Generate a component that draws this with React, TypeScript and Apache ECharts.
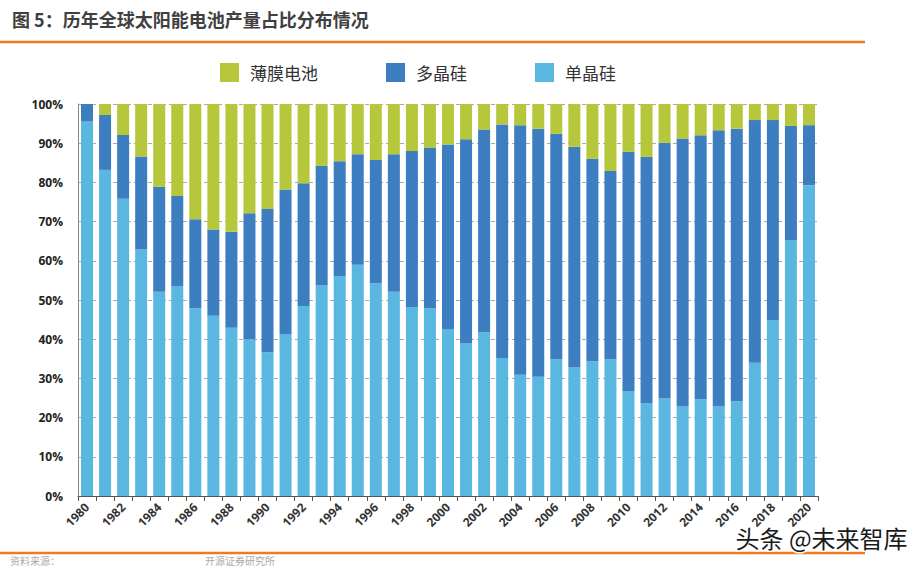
import React, { useEffect, useRef } from "react";
import * as echarts from "echarts";

const years: string[] = [];
for (let y = 1980; y <= 2020; y++) years.push(String(y));

// share of production, %
const monoSi = [95.5, 83.2, 75.8, 62.9, 52.1, 53.6, 47.9, 46.0, 42.9, 40.0, 36.7, 41.3, 48.5, 53.7, 56.1, 59.0, 54.3, 52.1, 48.2, 47.9, 42.6, 38.9, 41.8, 35.2, 30.9, 30.4, 34.9, 32.8, 34.4, 34.9, 26.8, 23.7, 24.9, 22.8, 24.7, 22.8, 24.2, 34.0, 44.9, 65.3, 79.3];
const polySi = [4.5, 14.0, 16.3, 23.7, 26.8, 22.9, 22.7, 22.0, 24.5, 32.1, 36.5, 36.9, 31.3, 30.5, 29.3, 28.2, 31.4, 35.1, 39.8, 41.0, 47.1, 52.1, 51.7, 59.6, 63.7, 63.3, 57.5, 56.3, 51.6, 48.0, 61.0, 62.8, 65.2, 68.4, 67.3, 70.5, 69.5, 61.9, 51.0, 29.1, 15.3];
const thinFilm = [0, 2.8, 7.9, 13.4, 21.1, 23.5, 29.4, 32.0, 32.6, 27.9, 26.8, 21.8, 20.2, 15.8, 14.6, 12.8, 14.3, 12.8, 12.0, 11.1, 10.3, 9.0, 6.5, 5.2, 5.4, 6.3, 7.6, 10.9, 14.0, 17.1, 12.2, 13.5, 9.9, 8.8, 8.0, 6.7, 6.3, 4.1, 4.1, 5.6, 5.4];

const seriesNames = ["薄膜电池", "多晶硅", "单晶硅"];
const titleText = "图 5：历年全球太阳能电池产量占比分布情况";

const CJK = '"Noto Sans CJK SC", "Noto Sans", sans-serif';

export default function App() {
  const ref = useRef<HTMLDivElement>(null);
  useEffect(() => {
    document.body.style.margin = "0";
    if (!ref.current) return;
    const chart = echarts.init(ref.current, null, { renderer: "svg" });
    const orange = "#EE7A22";
    chart.setOption({
      animation: false,
      backgroundColor: "#ffffff",
      textStyle: { fontFamily: CJK },
      grid: { left: 78, right: 104, top: 104, bottom: 70 },
      legend: {
        data: seriesNames,
        left: 215,
        top: 58,
        itemWidth: 19,
        itemHeight: 19,
        itemGap: 68,
        icon: "rect",
        textStyle: { fontSize: 17, color: "#333", fontFamily: CJK, padding: [0, 0, 0, 6] },
      },
      xAxis: {
        type: "category",
        data: years,
        axisLine: { lineStyle: { color: "#555", width: 1 } },
        axisTick: { show: true, interval: 0, alignWithLabel: false, lineStyle: { color: "#555" } },
        axisLabel: {
          interval: 1,
          rotate: 45,
          fontSize: 12,
          fontWeight: "bold",
          color: "#333",
          fontFamily: '"Open Sans", "DejaVu Sans", sans-serif',
          margin: 9,
        },
      },
      yAxis: {
        type: "value",
        min: 0,
        max: 100,
        interval: 10,
        axisLine: { show: true, lineStyle: { color: "#8a8a8a" } },
        axisTick: { show: false },
        axisLabel: {
          formatter: "{value}%",
          fontSize: 12,
          fontWeight: "bold",
          color: "#222",
          fontFamily: '"Open Sans", "DejaVu Sans", sans-serif',
          margin: 15,
        },
        splitLine: { show: true, lineStyle: { color: "#aaa", type: [4, 3], width: 1 } },
      },
      series: [
        { name: "单晶硅", type: "bar", stack: "s", data: monoSi, barWidth: 12, itemStyle: { color: "#5AB7E0" } },
        { name: "多晶硅", type: "bar", stack: "s", data: polySi, barWidth: 12, itemStyle: { color: "#3C7EC0" } },
        { name: "薄膜电池", type: "bar", stack: "s", data: thinFilm, barWidth: 12, itemStyle: { color: "#B6C73B" } },
      ],
      graphic: [
        {
          type: "text",
          left: 12,
          top: 10,
          style: { text: titleText, fontSize: 18, fontWeight: "bold", fill: "#404040", fontFamily: CJK },
        },
        { type: "line", shape: { x1: 0, y1: 42, x2: 865, y2: 42 }, style: { stroke: orange, lineWidth: 2.5 } },
        { type: "line", shape: { x1: 0, y1: 553, x2: 865, y2: 553 }, style: { stroke: orange, lineWidth: 2.5 } },
        {
          type: "text",
          left: 10,
          top: 555,
          style: { text: "资料来源：", fontSize: 10, fill: "#aaa", fontFamily: CJK },
        },
        {
          type: "text",
          left: 205,
          top: 555,
          style: { text: "开源证券研究所", fontSize: 10, fill: "#aaa", fontFamily: CJK },
        },
        {
          type: "text",
          left: 734,
          top: 524,
          z: 100,
          style: {
            text: "头条 @未来智库",
            fontSize: 24,
            fill: "#1a1a1a",
            stroke: "#ffffff",
            lineWidth: 3,
            fontFamily: CJK,
          },
        },
      ],
    });
    return () => chart.dispose();
  }, []);
  return <div ref={ref} style={{ width: 922, height: 566, position: "absolute", left: 0, top: 0 }} />;
}
